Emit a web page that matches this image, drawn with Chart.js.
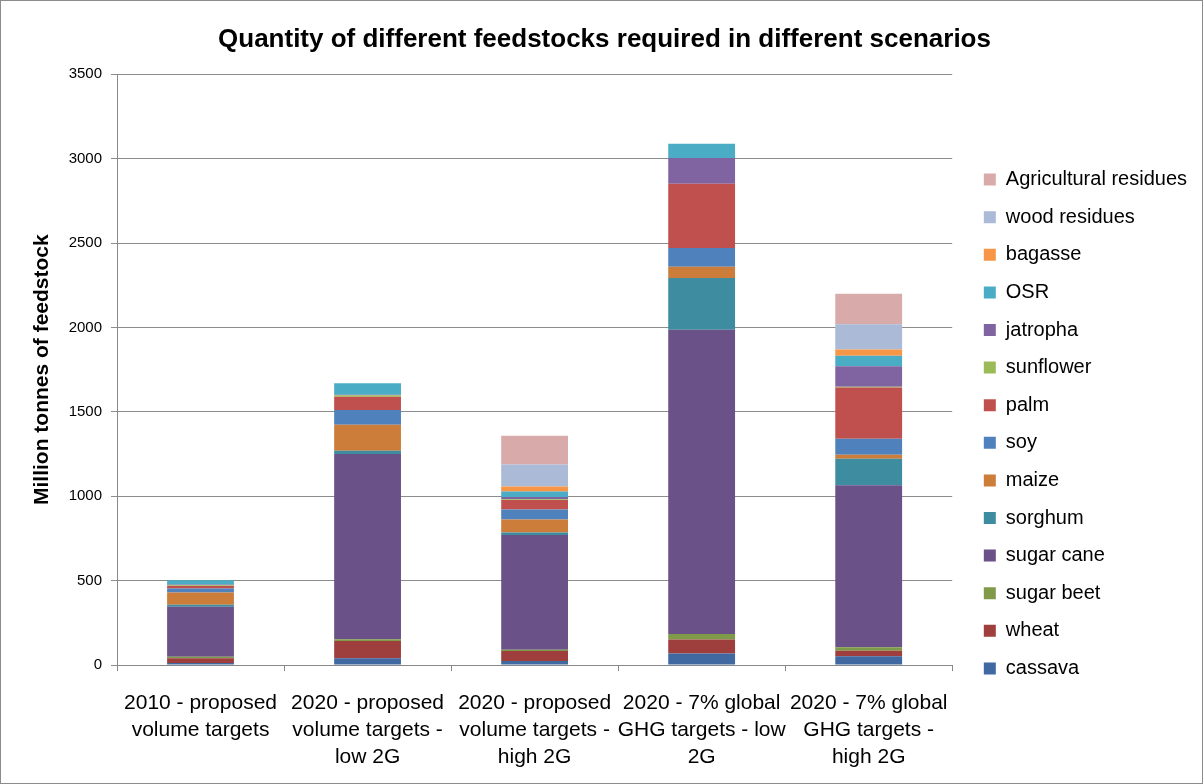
<!DOCTYPE html>
<html>
<head>
<meta charset="utf-8">
<script src="https://cdn.jsdelivr.net/npm/chart.js@4/dist/chart.umd.min.js"></script>
<style>
  html, body { margin: 0; padding: 0; background: #fff; }
  #wrap { width: 1201px; height: 782px; border: 1px solid #8c8c8c; position: relative; }
</style>
</head>
<body>
<div id="wrap"><canvas id="feedstockChart"></canvas></div>
<script>
const scenarios = [
    ['2010 - proposed', 'volume targets'],
    ['2020 - proposed', 'volume targets -', 'low 2G'],
    ['2020 - proposed', 'volume targets -', 'high 2G'],
    ['2020 - 7% global', 'GHG targets - low', '2G'],
    ['2020 - 7% global', 'GHG targets -', 'high 2G']
];

// million tonnes, one value per scenario
const cassava = [12, 40, 24, 69, 53];
const wheat = [28, 103, 59, 83, 32];
const sugarBeet = [10, 10, 8, 32, 20];
const sugarCane = [295, 1097, 680, 1803, 961];
const sorghum = [12, 20, 14, 306, 156];
const maize = [73, 154, 77, 67, 24];
const soy = [24, 87, 59, 111, 94];
const palm = [14, 79, 57, 380, 304];
const sunflower = [5, 8, 5, 0, 5];
const jatropha = [5, 4, 12, 152, 121];
const osr = [24, 68, 33, 85, 63];
const bagasse = [0, 0, 30, 0, 36];
const woodResidues = [0, 0, 130, 0, 150];
const agriResidues = [0, 0, 170, 0, 180];

const yTicks = [0, 500, 1000, 1500, 2000, 2500, 3000, 3500];

const datasets = [
    { label: 'cassava', data: cassava, backgroundColor: '#3F69A0' },
    { label: 'wheat', data: wheat, backgroundColor: '#9E3F3D' },
    { label: 'sugar beet', data: sugarBeet, backgroundColor: '#7F9A48' },
    { label: 'sugar cane', data: sugarCane, backgroundColor: '#6A5187' },
    { label: 'sorghum', data: sorghum, backgroundColor: '#3D8CA0' },
    { label: 'maize', data: maize, backgroundColor: '#CD7D3A' },
    { label: 'soy', data: soy, backgroundColor: '#4F81BD' },
    { label: 'palm', data: palm, backgroundColor: '#C0504D' },
    { label: 'sunflower', data: sunflower, backgroundColor: '#9BBB59' },
    { label: 'jatropha', data: jatropha, backgroundColor: '#8064A2' },
    { label: 'OSR', data: osr, backgroundColor: '#4BACC6' },
    { label: 'bagasse', data: bagasse, backgroundColor: '#F79646' },
    { label: 'wood residues', data: woodResidues, backgroundColor: '#AABAD7' },
    { label: 'Agricultural residues', data: agriResidues, backgroundColor: '#D9AAAA' }
];
datasets.forEach(d => {
    d.barPercentage = 0.4;
    d.categoryPercentage = 1.0;
    d.borderWidth = 0;
});

Chart.defaults.font.family = "'Liberation Sans', 'DejaVu Sans', sans-serif";
Chart.defaults.color = '#000';

// nudge the legend: a bit more gap from the plot, and sit lower like the original
const legendNudge = {
    id: 'legendNudge',
    afterLayout(chart) {
        const lg = chart.legend;
        const dx = chart.chartArea.right + 14 - lg.left;
        const dy = 25;
        lg.left += dx; lg.right += dx;
        lg.top += dy; lg.bottom += dy;
    }
};

const canvas = document.getElementById('feedstockChart');
canvas.width = 1201;
canvas.height = 782;

new Chart(canvas.getContext('2d'), {
    type: 'bar',
    data: { labels: scenarios, datasets: datasets },
    plugins: [legendNudge],
    options: {
        responsive: false,
        animation: false,
        layout: { padding: { left: 25, right: 19, top: 8, bottom: -6 } },
        plugins: {
            title: {
                display: true,
                text: 'Quantity of different feedstocks required in different scenarios',
                font: { size: 26, weight: 'bold' },
                color: '#000',
                padding: { top: 15, bottom: 19 }
            },
            legend: {
                position: 'right',
                reverse: true,
                labels: {
                    boxWidth: 12,
                    boxHeight: 12,
                    padding: 17.6,
                    font: { size: 20 },
                    color: '#000'
                }
            },
            tooltip: { enabled: false }
        },
        scales: {
            x: {
                stacked: true,
                grid: {
                    offset: true,
                    drawOnChartArea: false,
                    drawTicks: true,
                    tickLength: 6,
                    color: '#888'
                },
                border: { color: '#888' },
                ticks: {
                    font: { size: 21, lineHeight: 1.3 },
                    maxRotation: 0,
                    autoSkip: false,
                    padding: 18
                }
            },
            y: {
                stacked: true,
                min: 0,
                max: 3500,
                afterBuildTicks: axis => { axis.ticks = yTicks.map(v => ({ value: v })); },
                afterFit: axis => { axis.width = 91; },
                grid: { color: '#8c8c8c', tickLength: 6 },
                border: { color: '#888' },
                ticks: { font: { size: 15 }, padding: 9, callback: v => String(v) },
                title: {
                    display: true,
                    text: 'Million tonnes of feedstock',
                    font: { size: 21, weight: 'bold' },
                    padding: { top: 4, bottom: 4 }
                }
            }
        }
    }
});
</script>
</body>
</html>
